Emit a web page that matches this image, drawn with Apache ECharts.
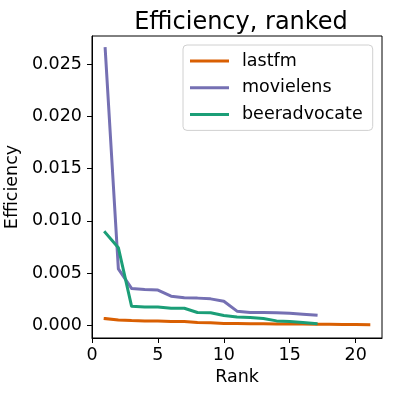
<!DOCTYPE html>
<html>
<head>
<meta charset="utf-8">
<script src="https://cdn.jsdelivr.net/npm/echarts@6/dist/echarts.min.js"></script>
<style>html,body{margin:0;padding:0;background:#fff}#c{width:396px;height:396px}</style>
</head>
<body>
<div id="c"></div>
<script>
var seriesNames = ['lastfm', 'movielens', 'beeradvocate'];
var lastfmRanks = [1,2,3,4,5,6,7,8,9,10,11,12,13,14,15,16,17,18,19,20,21];
var lastfmValues = [0.00064,0.00051,0.00045,0.00042,0.00042,0.00036,0.00035,0.00026,0.00023,0.00017,0.00016,0.00015,0.00014,0.00013,0.00012,0.00011,0.00010,0.00009,0.00008,0.00007,0.00006];
var movielensRanks = [1,2,3,4,5,6,7,8,9,10,11,12,13,14,15,16,17];
var movielensValues = [0.0265,0.00541,0.00353,0.00343,0.00337,0.00279,0.00263,0.0026,0.00253,0.0023,0.00135,0.00122,0.00122,0.0012,0.00115,0.00106,0.00096];
var beerRanks = [1,2,3,4,5,6,7,8,9,10,11,12,13,14,15,16,17];
var beerValues = [0.0089,0.00743,0.00183,0.00176,0.00176,0.00163,0.00163,0.00122,0.0012,0.00094,0.0008,0.00074,0.00064,0.00042,0.00035,0.00026,0.00016];
var xTicks = [0,5,10,15,20];
var yTicks = [0,0.005,0.010,0.015,0.020,0.025];
var colors = ['#d95f02','#7570b3','#1b9e77'];

function pairs(xs, ys){ return xs.map(function(x,i){ return [x, ys[i]]; }); }
var allData = [pairs(lastfmRanks,lastfmValues), pairs(movielensRanks,movielensValues), pairs(beerRanks,beerValues)];

var FONT = 'DejaVu Sans';
var FS = 17.5;
var chart = echarts.init(document.getElementById('c'), null, {renderer:'canvas'});
chart.setOption({
  animation: false,
  backgroundColor: '#fff',
  title: {
    text: 'Efficiency, ranked',
    left: 236, top: 6, textAlign: 'center',
    textStyle: {fontFamily: FONT, fontSize: 24, fontWeight: 'normal', color: '#000'}
  },
  legend: {
    data: seriesNames,
    orient: 'vertical',
    left: 183, top: 45,
    icon: 'rect',
    itemWidth: 39, itemHeight: 3,
    itemGap: 6.7,
    padding: [6, 10, 6, 7],
    backgroundColor: 'rgba(255,255,255,0.8)',
    borderColor: '#d0d0d0', borderWidth: 1, borderRadius: 4,
    textStyle: {fontFamily: FONT, fontSize: FS, color: '#000', lineHeight: 20, padding: [0,0,0,8]}
  },
  grid: {left: 92, right: 14, top: 36, bottom: 58, show: true, borderColor: '#000', borderWidth: 1, containLabel: false, outerBoundsMode: 'none'},
  xAxis: {
    type: 'value', min: 0, max: 22,
    name: 'Rank', nameLocation: 'middle', nameGap: 26,
    nameTextStyle: {fontFamily: FONT, fontSize: FS, color: '#000'},
    axisLine: {show: true, onZero: false, lineStyle: {color: '#000', width: 1}},
    axisTick: {show: true, length: 5, lineStyle: {color: '#000', width: 1}, customValues: xTicks},
    axisLabel: {fontFamily: FONT, fontSize: FS, color: '#000', margin: 8, customValues: xTicks},
    splitLine: {show: false}
  },
  yAxis: {
    type: 'value', min: -0.00122, max: 0.02771,
    name: 'Efficiency', nameLocation: 'middle', nameGap: 56, nameRotate: 90,
    nameTextStyle: {fontFamily: FONT, fontSize: FS, color: '#000'},
    axisLine: {show: true, onZero: false, lineStyle: {color: '#000', width: 1}},
    axisTick: {show: true, length: 5, lineStyle: {color: '#000', width: 1}, customValues: yTicks},
    axisLabel: {fontFamily: FONT, fontSize: FS, color: '#000', margin: 10, customValues: yTicks,
      formatter: function(v){ return v.toFixed(3); }},
    splitLine: {show: false}
  },
  series: seriesNames.map(function(n, i){
    return {
      name: n, type: 'line', data: allData[i],
      showSymbol: false, symbol: 'none',
      color: colors[i],
      lineStyle: {color: colors[i], width: 3, cap: 'square', join: 'round'}
    };
  })
});
</script>
</body>
</html>
